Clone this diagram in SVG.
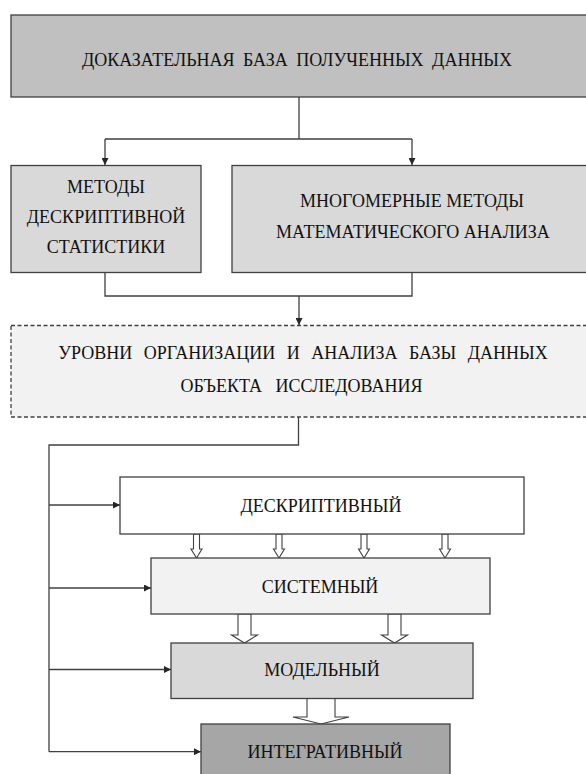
<svg xmlns="http://www.w3.org/2000/svg" width="586" height="774" viewBox="0 0 586 774">
<defs>
<marker id="ah" markerUnits="userSpaceOnUse" markerWidth="8" markerHeight="7" refX="7" refY="3.5" orient="auto"><path d="M0,0 L7,3.5 L0,7 z" fill="#262626"/></marker>
<style>
.box{stroke:#404040;stroke-width:1.3}
.t{font-family:"Liberation Serif","Times New Roman",serif;font-size:18px;fill:#111;text-anchor:middle}
.c{fill:none;stroke:#404040;stroke-width:1.3}
.h{fill:#fff;stroke:#404040;stroke-width:1.1}
</style>
</defs>
<rect width="586" height="774" fill="#fff"/>
<g id="connectors">
<path class="c" d="M299 97 V139 M105 139 H412"/>
<path class="c" d="M105 139 V165" marker-end="url(#ah)"/>
<path class="c" d="M412 139 V165" marker-end="url(#ah)"/>
<path class="c" d="M105 272.5 V296 H412 V272.5"/>
<path class="c" d="M299 296 V325" marker-end="url(#ah)"/>
<path class="c" d="M298.5 417 V445 H49 V751.7"/>
<path class="c" d="M49 505 H120" marker-end="url(#ah)"/>
<path class="c" d="M49 588 H151" marker-end="url(#ah)"/>
<path class="c" d="M49 669.5 H171" marker-end="url(#ah)"/>
<path class="c" d="M49 751.7 H201" marker-end="url(#ah)"/>
<polygon class="h" points="193.5,534 199.5,534 199.5,549 202,549 196.5,558 191,549 193.5,549"/>
<polygon class="h" points="276,534 282,534 282,549 284.5,549 279,558 273.5,549 276,549"/>
<polygon class="h" points="361,534 367,534 367,549 369.5,549 364,558 358.5,549 361,549"/>
<polygon class="h" points="442,534 448,534 448,549 450.5,549 445,558 439.5,549 442,549"/>
<polygon class="h" points="238,614 251,614 251,635 257.5,635 244.5,643 231.5,635 238,635"/>
<polygon class="h" points="388,614 401,614 401,635 407.5,635 394.5,643 381.5,635 388,635"/>
<polygon class="h" points="307,698 335,698 335,717 349,717 321,724 293,717 307,717"/>
</g>
<g id="n-base">
<rect class="box" x="11" y="15" width="590" height="82" fill="#c0c0c0"/>
<text class="t" x="297" y="66" word-spacing="4">ДОКАЗАТЕЛЬНАЯ БАЗА ПОЛУЧЕННЫХ ДАННЫХ</text>
</g>
<g id="n-descstat">
<rect class="box" x="11" y="165.5" width="190" height="107" fill="#d9d9d9"/>
<text class="t" x="106" y="193">МЕТОДЫ</text>
<text class="t" x="106" y="223">ДЕСКРИПТИВНОЙ</text>
<text class="t" x="106" y="253">СТАТИСТИКИ</text>
</g>
<g id="n-multi">
<rect class="box" x="232" y="165.5" width="362" height="107" fill="#d9d9d9"/>
<text class="t" x="412" y="206.5">МНОГОМЕРНЫЕ МЕТОДЫ</text>
<text class="t" x="413" y="237.5">МАТЕМАТИЧЕСКОГО АНАЛИЗА</text>
</g>
<g id="n-levels">
<rect class="box" x="11" y="325.5" width="590" height="91.5" fill="#f2f2f2" stroke-dasharray="4 2.5"/>
<text class="t" x="303" y="359" word-spacing="7">УРОВНИ ОРГАНИЗАЦИИ И АНАЛИЗА БАЗЫ ДАННЫХ</text>
<text class="t" x="301.5" y="392" word-spacing="9">ОБЪЕКТА ИССЛЕДОВАНИЯ</text>
</g>
<g id="n-descriptive">
<rect class="box" x="120" y="477" width="404" height="57" fill="#fff"/>
<text class="t" x="321" y="511.5">ДЕСКРИПТИВНЫЙ</text>
</g>
<g id="n-system">
<rect class="box" x="151" y="558" width="339" height="56" fill="#f2f2f2"/>
<text class="t" x="320" y="592.5">СИСТЕМНЫЙ</text>
</g>
<g id="n-model">
<rect class="box" x="171" y="643" width="302" height="55.5" fill="#d9d9d9"/>
<text class="t" x="322" y="675.5">МОДЕЛЬНЫЙ</text>
</g>
<g id="n-integr">
<rect class="box" x="201" y="724" width="249" height="60" fill="#a6a6a6"/>
<text class="t" x="325" y="757.5">ИНТЕГРАТИВНЫЙ</text>
</g>
</svg>
